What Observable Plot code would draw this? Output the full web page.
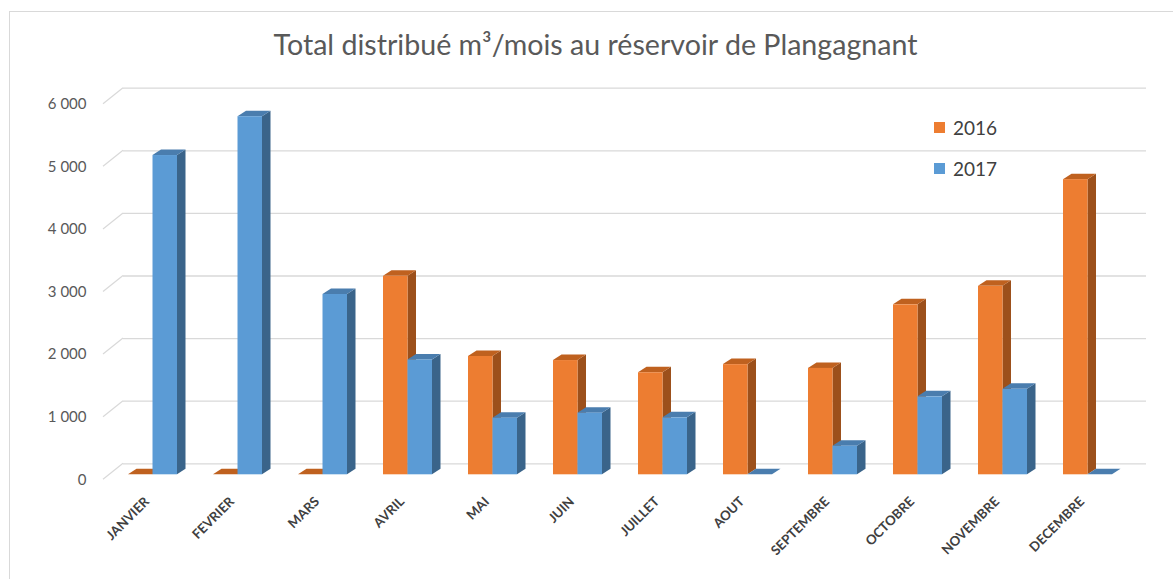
<!DOCTYPE html>
<html>
<head>
<meta charset="utf-8">
<script src="https://cdn.jsdelivr.net/npm/d3@7"></script>
<script src="https://cdn.jsdelivr.net/npm/@observablehq/plot@0.6"></script>
<style>
  html, body { margin: 0; padding: 0; background: #fff; }
  #wrap { position: relative; width: 1173px; height: 579px; overflow: hidden; font-family: Lato, "Open Sans", sans-serif; }
  #box { position: absolute; left: 9px; top: 11px; width: 1220px; height: 620px; border: 1px solid #d9d9d9; box-sizing: border-box; }
  #title { position: absolute; left: 0; width: 1191px; top: 27px; text-align: center; font-size: 28.6px; color: #595959; white-space: nowrap; }
  #chart { position: absolute; left: 0; top: 0; }
  .leg { position: absolute; left: 934px; display: flex; align-items: center; font-size: 19px; color: #404040; }
  .leg span.sw { display: inline-block; width: 11px; height: 11px; margin-right: 8px; }
</style>
</head>
<body>
<div id="wrap">
  <div id="box"></div>
  <div id="chart"></div>
  <div id="title"></div>
  <div id="legend"></div>
</div>
<script>
// ---- data ----
const title = "Total distribué m³/mois au réservoir de Plangagnant";
const months = ["JANVIER","FEVRIER","MARS","AVRIL","MAI","JUIN","JUILLET","AOUT","SEPTEMBRE","OCTOBRE","NOVEMBRE","DECEMBRE"];
const years = ["2016", "2017"];
const values2016 = [0, 0, 0, 3170, 1890, 1825, 1630, 1760, 1700, 2715, 3010, 4715];
const values2017 = [5100, 5720, 2880, 1835, 905, 985, 910, 0, 457, 1245, 1365, 0];
const yTicks = [0, 1000, 2000, 3000, 4000, 5000, 6000];

// ---- styles ----
const colors = {
  "2016": {front: "#ED7D31", top: "#BF611F", side: "#9C501B"},
  "2017": {front: "#5B9BD5", top: "#4A7DAE", side: "#3A648A"}
};
const DX = 8.5, DY = 5.5;       // bar depth (px)
const xRange = [109.45, 1130.55];
const padInner = 0.424;
const bw = (xRange[1] - xRange[0]) / months.length * (1 - padInner);

const fr = d3.formatLocale({decimal: ",", thousands: "\u00a0", grouping: [3], currency: ["", " €"]});
const fmt = fr.format(",d");

const data = months.map((m, i) => ({month: m, v2016: values2016[i], v2017: values2017[i]}));

function depthFaces(key, half) {
  const c = colors[key];
  return (index, scales) => {
    const x = scales.x, y = scales.y;
    const b = x.bandwidth();
    const g = d3.create("svg:g");
    data.forEach(d => {
      const v = d["v" + key];
      const x0 = x(d.month) + half * b / 2, x1 = x0 + b / 2;
      const yt = y(v), yb = y(0);
      if (v > 0) {
        g.append("path")
          .attr("d", `M${x1},${yt}L${x1 + DX},${yt - DY}L${x1 + DX},${yb - DY}L${x1},${yb}Z`)
          .attr("fill", c.side);
      }
      g.append("path")
        .attr("d", `M${x0},${yt}L${x1},${yt}L${x1 + DX},${yt - DY}L${x0 + DX},${yt - DY}Z`)
        .attr("fill", c.top);
    });
    return g.node();
  };
}

function diagonals(index, scales, values, dims) {
  const y = scales.y;
  const g = d3.create("svg:g").attr("stroke", "#d9d9d9").attr("stroke-width", 1.3).attr("fill", "none");
  yTicks.forEach(t => {
    g.append("line")
      .attr("x1", dims.marginLeft - 20).attr("y1", y(t) + 5)
      .attr("x2", dims.marginLeft).attr("y2", y(t) - 11);
  });
  return g.node();
}

const chart = Plot.plot({
  width: 1173,
  height: 579,
  marginLeft: 123,
  marginRight: 27,
  marginTop: 80,
  marginBottom: 87,
  style: {background: "transparent", overflow: "visible", fontFamily: "Lato, 'Open Sans', sans-serif"},
  x: {type: "band", domain: months, range: xRange, paddingInner: padInner, paddingOuter: padInner / 2, axis: null},
  y: {domain: [0, 6000], range: [474.3, 98.7], axis: null},
  marks: [
    Plot.ruleY(yTicks, {y: d => d, dy: -11, stroke: "#d9d9d9", strokeWidth: 1.3}),
    diagonals,
    Plot.text(yTicks, {y: d => d, text: d => fmt(d), frameAnchor: "left", dx: -37, dy: 5, textAnchor: "end", fontSize: 15, fill: "#595959"}),
    depthFaces("2016", 0),
    Plot.barY(data.filter(d => d.v2016 > 0), {x: "month", y: "v2016", fill: colors["2016"].front, insetRight: bw / 2}),
    depthFaces("2017", 1),
    Plot.barY(data.filter(d => d.v2017 > 0), {x: "month", y: "v2017", fill: colors["2017"].front, insetLeft: bw / 2}),
    Plot.text(months, {x: d => d, text: d => d, frameAnchor: "bottom", rotate: -45, textAnchor: "end", dx: -3, dy: 10, fontSize: 13.2, fontWeight: "bold", fill: "#404040"})
  ]
});
document.getElementById("chart").appendChild(chart);
document.getElementById("title").textContent = title;

const legendTops = [116, 157];
const legend = document.getElementById("legend");
years.forEach((yr, i) => {
  const el = document.createElement("div");
  el.className = "leg";
  el.style.top = legendTops[i] + "px";
  el.innerHTML = `<span class="sw" style="background:${colors[yr].front}"></span><span>${yr}</span>`;
  legend.appendChild(el);
});
</script>
</body>
</html>
